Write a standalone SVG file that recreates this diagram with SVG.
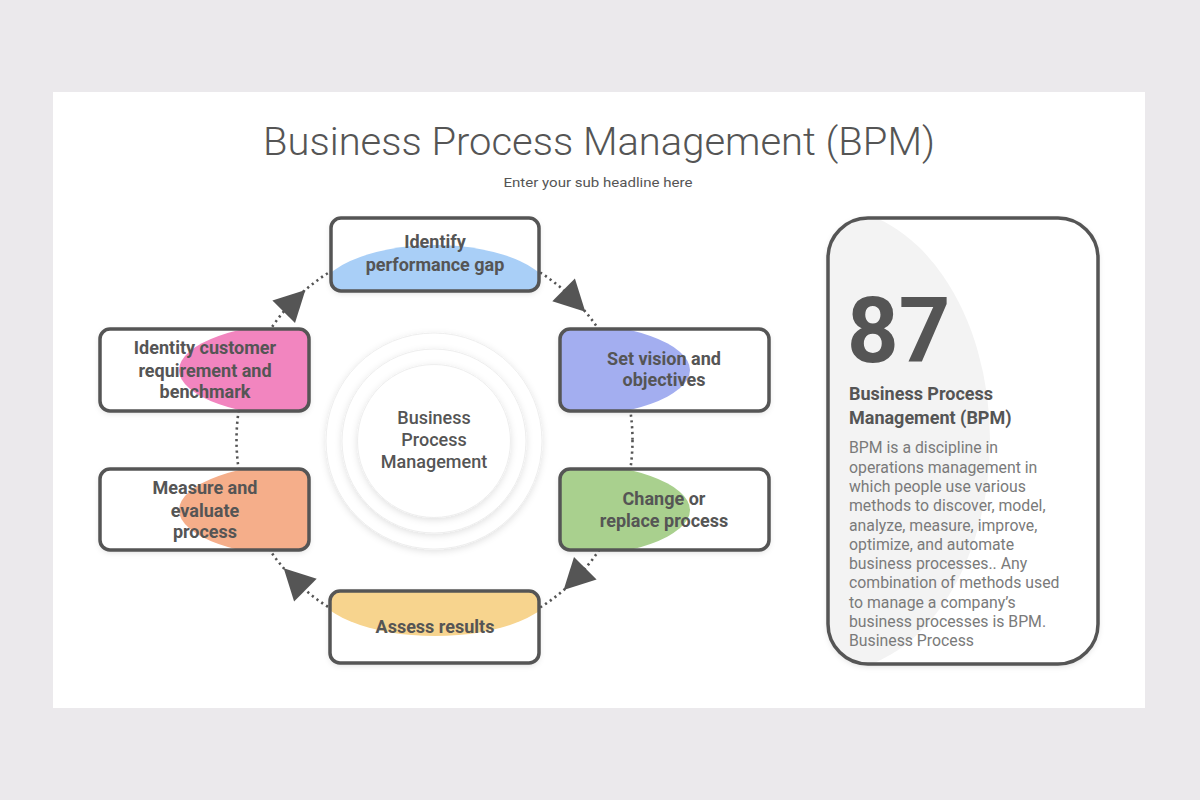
<svg xmlns="http://www.w3.org/2000/svg" width="1200" height="800" viewBox="0 0 1200 800">
  <defs>
    <style>
      .box { fill: none; stroke: #555; stroke-width: 3.5; }
      .boxbg { fill: #fff; }
      .lbl { font-family: Roboto, "Liberation Sans", sans-serif; font-weight: bold; font-size: 18px; fill: #555; text-anchor: middle; }
      .ctr { font-family: Roboto, "Liberation Sans", sans-serif; font-weight: 500; font-size: 18px; fill: #555; text-anchor: middle; }
      .body { font-family: Roboto, "Liberation Sans", sans-serif; font-size: 15.8px; fill: #7a7a7a; }
      .arrow { fill: #555; }
      .ring { fill: #fff; stroke: #eeeeee; stroke-width: 1; }
    </style>
    <filter id="sh" x="-20%" y="-30%" width="140%" height="160%">
      <feDropShadow dx="0" dy="2" stdDeviation="3" flood-color="#000" flood-opacity="0.15"/>
    </filter>
    <filter id="csh" x="-20%" y="-20%" width="140%" height="140%">
      <feDropShadow dx="0" dy="2" stdDeviation="3.5" flood-color="#000" flood-opacity="0.12"/>
    </filter>
    <clipPath id="c-top"><rect x="331" y="218" width="208" height="73" rx="10"/></clipPath>
    <clipPath id="c-r1"><rect x="560" y="329" width="209" height="82" rx="10"/></clipPath>
    <clipPath id="c-r2"><rect x="560" y="469" width="209" height="81" rx="10"/></clipPath>
    <clipPath id="c-bot"><rect x="330" y="591" width="209" height="72" rx="10"/></clipPath>
    <clipPath id="c-l2"><rect x="100" y="469" width="209" height="81" rx="10"/></clipPath>
    <clipPath id="c-l1"><rect x="100" y="329" width="209" height="82" rx="10"/></clipPath>
    <clipPath id="c-card"><rect x="828" y="218" width="270" height="446" rx="40"/></clipPath>
  </defs>

  <rect x="0" y="0" width="1200" height="800" fill="#ebe9ec"/>
  <rect x="53" y="92" width="1092" height="616" fill="#ffffff"/>

  <g id="title">
    <text x="599" y="155" text-anchor="middle" font-family="Roboto, 'Liberation Sans', sans-serif" font-weight="300" font-size="38" fill="#555" textLength="672" lengthAdjust="spacingAndGlyphs">Business Process Management (BPM)</text>
    <text x="598" y="187" text-anchor="middle" font-family="Roboto, 'Liberation Sans', sans-serif" font-size="13.5" fill="#555" textLength="189" lengthAdjust="spacingAndGlyphs">Enter your sub headline here</text>
  </g>

  <g id="connectors">
    <circle cx="434.5" cy="440" r="198" fill="none" stroke="#555" stroke-width="2.6" stroke-dasharray="2.2 3.6"/>
    <polygon class="arrow" points="585.3,311.7 552.3,301.2 574.9,278.6"/>
    <polygon class="arrow" points="563.6,590.1 574,557 596.6,579.6"/>
    <polygon class="arrow" points="283.7,568.3 316.7,578.8 294.1,601.4"/>
    <polygon class="arrow" points="305.4,289.9 295,323 272.4,300.4"/>
  </g>

  <g id="center">
    <circle class="ring" cx="434" cy="441" r="108" filter="url(#csh)"/>
    <circle class="ring" cx="434" cy="441" r="92" filter="url(#csh)"/>
    <circle class="ring" cx="434" cy="441" r="76.5" filter="url(#csh)"/>
    <text class="ctr" x="434" y="424">Business</text>
    <text class="ctr" x="434" y="446">Process</text>
    <text class="ctr" x="434" y="468">Management</text>
  </g>

  <g id="node-identify">
    <rect class="boxbg" x="331" y="218" width="208" height="73" rx="10" filter="url(#sh)"/>
    <ellipse cx="435" cy="300" rx="120" ry="55" fill="#a9cff7" clip-path="url(#c-top)"/>
    <rect class="box" x="331" y="218" width="208" height="73" rx="10"/>
    <text class="lbl" x="435" y="248">Identify</text>
    <text class="lbl" x="435" y="271">performance gap</text>
  </g>

  <g id="node-vision">
    <rect class="boxbg" x="560" y="329" width="209" height="82" rx="10" filter="url(#sh)"/>
    <ellipse cx="555" cy="370" rx="135" ry="48" fill="#a3aef0" clip-path="url(#c-r1)"/>
    <rect class="box" x="560" y="329" width="209" height="82" rx="10"/>
    <text class="lbl" x="664" y="365">Set vision and</text>
    <text class="lbl" x="664" y="386">objectives</text>
  </g>

  <g id="node-change">
    <rect class="boxbg" x="560" y="469" width="209" height="81" rx="10" filter="url(#sh)"/>
    <ellipse cx="555" cy="510" rx="135" ry="48" fill="#a9d08e" clip-path="url(#c-r2)"/>
    <rect class="box" x="560" y="469" width="209" height="81" rx="10"/>
    <text class="lbl" x="664" y="505">Change or</text>
    <text class="lbl" x="664" y="527">replace process</text>
  </g>

  <g id="node-assess">
    <rect class="boxbg" x="330" y="591" width="209" height="72" rx="10" filter="url(#sh)"/>
    <ellipse cx="435" cy="586" rx="120" ry="50" fill="#f7d48e" clip-path="url(#c-bot)"/>
    <rect class="box" x="330" y="591" width="209" height="72" rx="10"/>
    <text class="lbl" x="435" y="633">Assess results</text>
  </g>

  <g id="node-measure">
    <rect class="boxbg" x="100" y="469" width="209" height="81" rx="10" filter="url(#sh)"/>
    <ellipse cx="314" cy="510" rx="135" ry="48" fill="#f5ae8a" clip-path="url(#c-l2)"/>
    <rect class="box" x="100" y="469" width="209" height="81" rx="10"/>
    <text class="lbl" x="205" y="494">Measure and</text>
    <text class="lbl" x="205" y="517">evaluate</text>
    <text class="lbl" x="205" y="538">process</text>
  </g>

  <g id="node-customer">
    <rect class="boxbg" x="100" y="329" width="209" height="82" rx="10" filter="url(#sh)"/>
    <ellipse cx="314" cy="370" rx="135" ry="48" fill="#f285bf" clip-path="url(#c-l1)"/>
    <rect class="box" x="100" y="329" width="209" height="82" rx="10"/>
    <text class="lbl" x="205" y="354">Identity customer</text>
    <text class="lbl" x="205" y="377">requirement and</text>
    <text class="lbl" x="205" y="398">benchmark</text>
  </g>

  <g id="info-card">
    <rect x="828" y="218" width="270" height="446" rx="40" fill="#fff" filter="url(#sh)"/>
    <ellipse cx="830" cy="440" rx="160" ry="232" fill="#f3f3f3" clip-path="url(#c-card)"/>
    <rect x="828" y="218" width="270" height="446" rx="40" fill="none" stroke="#555" stroke-width="3.5"/>
    <text x="847" y="362" font-family="Roboto, 'Liberation Sans', sans-serif" font-weight="bold" font-size="90" fill="#555">87</text>
    <text x="849" y="400" font-family="Roboto, 'Liberation Sans', sans-serif" font-weight="bold" font-size="18" fill="#555">Business Process</text>
    <text x="849" y="424" font-family="Roboto, 'Liberation Sans', sans-serif" font-weight="bold" font-size="18" fill="#555">Management (BPM)</text>
    <text class="body" x="849" y="453">BPM is a discipline in</text>
    <text class="body" x="849" y="473">operations management in</text>
    <text class="body" x="849" y="492">which people use various</text>
    <text class="body" x="849" y="511">methods to discover, model,</text>
    <text class="body" x="849" y="531">analyze, measure, improve,</text>
    <text class="body" x="849" y="550">optimize, and automate</text>
    <text class="body" x="849" y="569">business processes.. Any</text>
    <text class="body" x="849" y="588">combination of methods used</text>
    <text class="body" x="849" y="608">to manage a company’s</text>
    <text class="body" x="849" y="627">business processes is BPM.</text>
    <text class="body" x="849" y="646">Business Process</text>
  </g>
</svg>
